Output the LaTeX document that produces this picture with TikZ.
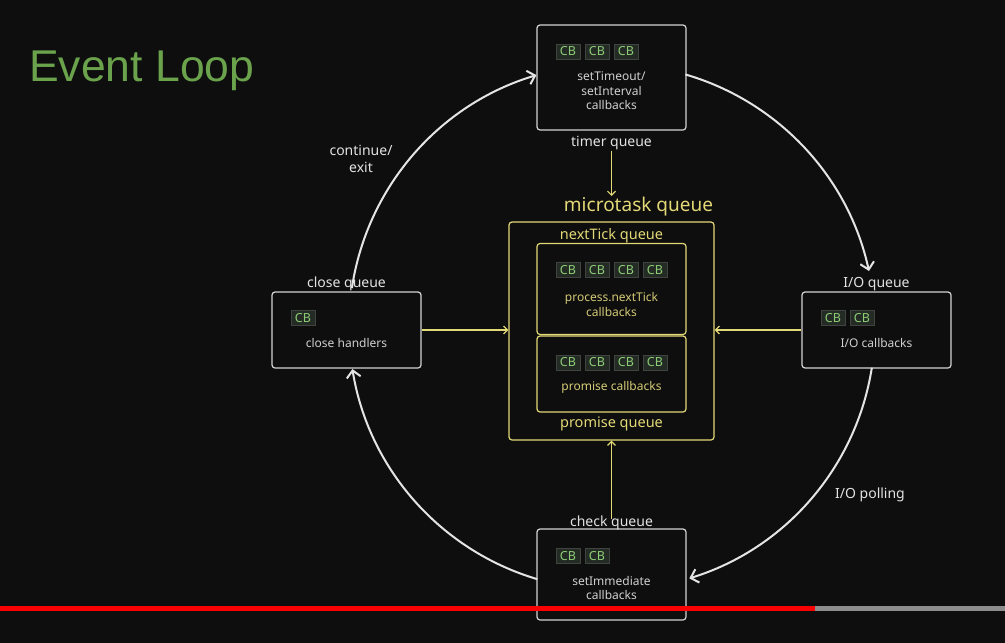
\documentclass[tikz,border=0pt]{standalone}
\usepackage{fontspec}
\setmainfont{Noto Sans}
\newfontfamily\titlefont{Liberation Sans}
\usetikzlibrary{arrows.meta,positioning}
\definecolor{bgdark}{RGB}{14,14,14}
\definecolor{boxline}{RGB}{212,212,212}
\definecolor{arcwhite}{RGB}{228,228,228}
\definecolor{labelwhite}{RGB}{226,226,226}
\definecolor{textgray}{RGB}{208,208,208}
\definecolor{mtyellow}{RGB}{226,216,118}
\definecolor{mttext}{RGB}{212,202,118}
\definecolor{chipfill}{RGB}{36,42,36}
\definecolor{chipedge}{RGB}{64,68,64}
\definecolor{chipgreen}{RGB}{140,205,118}
\definecolor{titlegreen}{RGB}{106,163,76}
\definecolor{barred}{RGB}{250,0,0}
\definecolor{bargray}{RGB}{140,140,140}

\begin{document}
\begin{tikzpicture}[x=1pt, y=-1pt,
  qbox/.style={draw=boxline, line width=1.2pt, rounded corners=3pt,
               fill=bgdark, inner sep=0pt, minimum width=149pt},
  mbox/.style={draw=mtyellow, line width=1.2pt, rounded corners=3pt,
               fill=bgdark, inner sep=0pt},
  cb/.style={draw=chipedge, fill=chipfill, text=chipgreen, line width=0.6pt,
             font=\fontsize{12.5}{12.5}\selectfont, minimum width=24pt,
             minimum height=15pt, inner sep=0pt},
  qlabel/.style={text=labelwhite, font=\fontsize{14}{16.5}\selectfont,
                 inner sep=1pt, align=center},
  mlabel/.style={text=mtyellow, font=\fontsize{14.5}{16}\selectfont, inner sep=1pt},
  qtext/.style={text=textgray, font=\fontsize{12}{14.5}\selectfont,
                align=center, inner sep=0pt},
  mtext/.style={qtext, text=mttext},
  looparr/.style={draw=arcwhite, line width=2pt,
                  -{Straight Barb[length=7pt, width=14pt]}},
  feed/.style={draw=mtyellow, line width=1.2pt,
               -{Straight Barb[length=4pt, width=8pt]}},
  node distance=2pt
]

%% Background and frame
\fill[bgdark] (0,0) rectangle (1005,643);

%% Title
\node[text=titlegreen, font=\titlefont\fontsize{44.5}{50}\selectfont,
      anchor=base west, inner sep=0pt] (title) at (29,81) {Event Loop};

%% Timer queue
\node[qbox, minimum height=105pt] (timer) at (611.5,77.5) {};
\foreach \i in {0,1,2}
  \node[cb] (tcb\i) at (568+29*\i,51.5) {CB};
\node[qtext] (timertxt) at (611.5,91) {setTimeout/\\setInterval\\callbacks};
\node[qlabel, below=4pt of timer] (timerlbl) {timer queue};

%% Microtask queue
\node[mbox, minimum width=205pt, minimum height=218pt] (micro) at (611.5,331) {};
\node[mlabel, font=\fontsize{19}{22}\selectfont, above=4pt of micro, xshift=27pt]
  (microlbl) {microtask queue};
\node[mlabel, below=6pt of micro.north] (ticklbl) {nextTick queue};
\node[mbox, minimum width=149pt, minimum height=91pt] (tickbox) at (611.5,289) {};
\foreach \i in {0,...,3}
  \node[cb] (ncb\i) at (568+29*\i,270) {CB};
\node[mtext] (ticktxt) at (611.5,304.5) {process.nextTick\\callbacks};
\node[mbox, minimum width=149pt, minimum height=76pt] (promisebox) at (611.5,374) {};
\foreach \i in {0,...,3}
  \node[cb] (pcb\i) at (568+29*\i,362.5) {CB};
\node[mtext] (promisetxt) at (611.5,387) {promise callbacks};
\node[mlabel, below=3pt of promisebox] (promiselbl) {promise queue};

%% Close queue
\node[qbox, minimum height=76pt] (closebox) at (346.5,330) {};
\node[cb] (ccb0) at (303,318) {CB};
\node[qtext] (closetxt) at (346.5,342.5) {close handlers};
\node[qlabel, above=-1pt of closebox] (closelbl) {close queue};

%% I/O queue
\node[qbox, minimum height=76pt] (iobox) at (876.5,330) {};
\foreach \i in {0,1}
  \node[cb] (icb\i) at (833+29*\i,318) {CB};
\node[qtext] (iotxt) at (876.5,342.5) {I/O callbacks};
\node[qlabel, above=-1pt of iobox] (iolbl) {I/O queue};

%% Check queue
\node[qbox, minimum height=91pt] (checkbox) at (611.5,574.5) {};
\foreach \i in {0,1}
  \node[cb] (kcb\i) at (568+29*\i,556) {CB};
\node[qtext] (checktxt) at (611.5,588) {setImmediate\\callbacks};
\node[qlabel, above=-3pt of checkbox] (checklbl) {check queue};

%% Loop labels
\node[qlabel] (exitlbl) at (361,159) {continue/\\exit};
\node[qlabel] (polllbl) at (870,495) {I/O polling};

%% Feeds into the microtask queue
\draw[feed] (timerlbl.south) -- (timerlbl.south |- microlbl.north);
\draw[feed] (closebox) -- (closebox -| micro.west);
\draw[feed] (iobox) -- (iobox -| micro.east);
\draw[feed] ([yshift=-4pt]checklbl.north) -- (micro.south);

%% The loop
\coordinate (hub) at (612,327);
\draw[looparr] ([shift={(73.8:263pt)}]hub) arc[start angle=73.8, end angle=12.3, radius=263pt];
\draw[looparr] ([shift={(-8.9:263pt)}]hub) arc[start angle=-8.9, end angle=-72.9, radius=263pt];
\draw[looparr] ([shift={(253.5:263pt)}]hub) arc[start angle=253.5, end angle=189.2, radius=263pt];
\draw[looparr] ([shift={(171.5:263pt)}]hub) arc[start angle=171.5, end angle=106.7, radius=263pt];

%% Player bar
\fill[barred] (0,606) rectangle (815,611);
\fill[bargray] (815,606) rectangle (1005,611);

\end{tikzpicture}
\end{document}
